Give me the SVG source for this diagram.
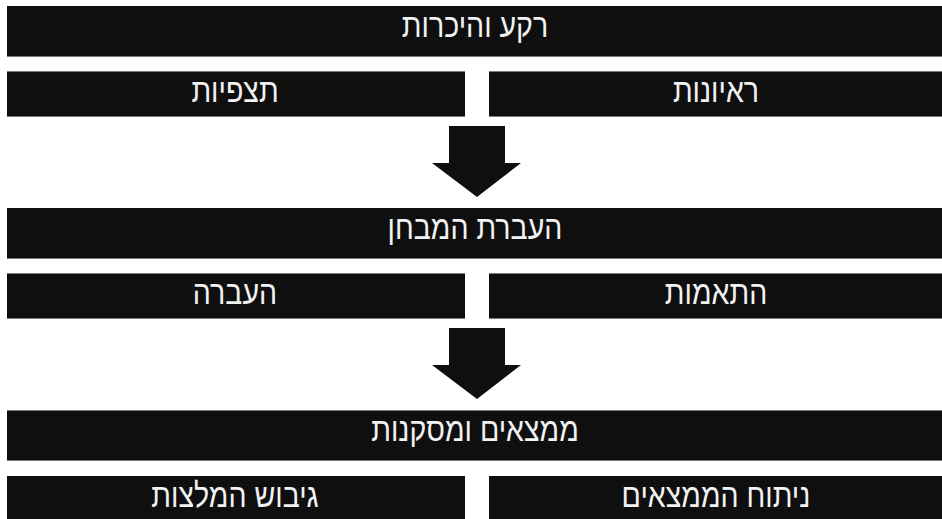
<svg xmlns="http://www.w3.org/2000/svg" width="942" height="519" viewBox="0 0 942 519">
<style>
.box{fill:#0f0f0f}
.edge{stroke:#7a7a7a;stroke-width:1}
.lbl{fill:#f2f2f2;font-family:"Liberation Sans","DejaVu Sans",sans-serif;font-size:34px;text-anchor:middle}
.arrow{fill:#0f0f0f}
</style>
<g id="bar1">
<rect class="box" x="7" y="6" width="935" height="51"/>
<line class="edge" x1="7" y1="56.5" x2="942" y2="56.5"/>
<text class="lbl" transform="translate(475,37) scale(0.84,1)">רקע והיכרות</text>
</g>
<g id="observations">
<rect class="box" x="7" y="71" width="458" height="46"/>
<line class="edge" x1="7" y1="71.5" x2="465" y2="71.5"/>
<line class="edge" x1="7" y1="116.5" x2="465" y2="116.5"/>
<text class="lbl" transform="translate(235,102) scale(0.84,1)">תצפיות</text>
</g>
<g id="interviews">
<rect class="box" x="489" y="71" width="453" height="46"/>
<line class="edge" x1="489" y1="71.5" x2="942" y2="71.5"/>
<line class="edge" x1="489" y1="116.5" x2="942" y2="116.5"/>
<text class="lbl" transform="translate(716,102) scale(0.84,1)">ראיונות</text>
</g>
<g id="bar3">
<rect class="box" x="7" y="208" width="935" height="51"/>
<line class="edge" x1="7" y1="258.5" x2="942" y2="258.5"/>
<text class="lbl" transform="translate(475,239) scale(0.84,1)">העברת המבחן</text>
</g>
<g id="transfer">
<rect class="box" x="7" y="273" width="458" height="46"/>
<line class="edge" x1="7" y1="273.5" x2="465" y2="273.5"/>
<line class="edge" x1="7" y1="318.5" x2="465" y2="318.5"/>
<text class="lbl" transform="translate(235,304) scale(0.84,1)">העברה</text>
</g>
<g id="adaptations">
<rect class="box" x="489" y="273" width="453" height="46"/>
<line class="edge" x1="489" y1="273.5" x2="942" y2="273.5"/>
<line class="edge" x1="489" y1="318.5" x2="942" y2="318.5"/>
<text class="lbl" transform="translate(716,304) scale(0.84,1)">התאמות</text>
</g>
<g id="bar5">
<rect class="box" x="7" y="410" width="935" height="51"/>
<line class="edge" x1="7" y1="410.5" x2="942" y2="410.5"/>
<line class="edge" x1="7" y1="460.5" x2="942" y2="460.5"/>
<text class="lbl" transform="translate(475,441) scale(0.84,1)">ממצאים ומסקנות</text>
</g>
<g id="recommendations">
<rect class="box" x="7" y="476" width="458" height="43"/>
<text class="lbl" transform="translate(235,507) scale(0.84,1)">גיבוש המלצות</text>
</g>
<g id="analysis">
<rect class="box" x="489" y="476" width="453" height="43"/>
<text class="lbl" transform="translate(716,507) scale(0.84,1)">ניתוח הממצאים</text>
</g>
<g id="connectors">
<polygon class="arrow" points="449,126 505,126 505,163 521,163 477,197 432,163 449,163"/>
<polygon class="arrow" points="449,328 505,328 505,365 521,365 477,399 432,365 449,365"/>
</g>
</svg>
